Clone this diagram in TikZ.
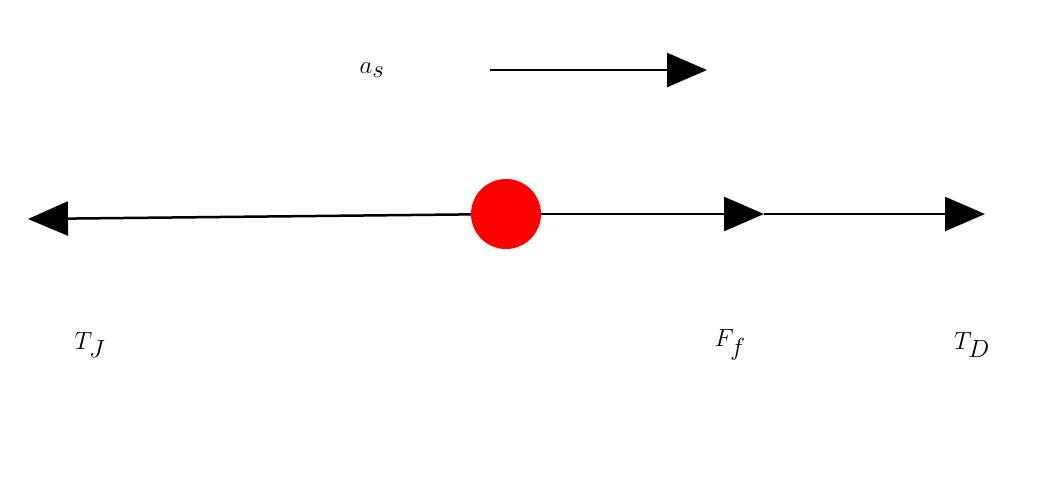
\documentclass[tikz,border=0pt]{standalone}
\usetikzlibrary{arrows.meta}
\begin{document}
\begin{tikzpicture}[x=1pt,y=-1pt,
  vec/.style={line width=2.5pt,-{Triangle[length=40pt,width=34pt]}},
  lbl/.style={font=\fontsize{64}{70}\selectfont, inner sep=0pt}]
\useasboundingbox (0,0) rectangle (1064,488);
\coordinate (c) at (506,214);
\coordinate (l) at (28,219);
\coordinate (f) at (764,214);
\coordinate (d) at (985,214);
\draw[vec] (c) -- (l);
\draw[vec] (c) -- (f);
\draw[vec] (f) -- (d);
\node[circle,fill=red,minimum size=70pt,inner sep=0pt] (dot) at (c) {};
\coordinate (a1) at (490,70);
\coordinate (a2) at (707,70);
\draw[vec] (a1) -- (a2);
\node[lbl] (as) at (372,70) {$a_s$};
\node[lbl] (tj) at (90,345) {$T_J$};
\node[lbl] (ff) at (730,345) {$F_f$};
\node[lbl] (td) at (972,345) {$T_D$};
\end{tikzpicture}
\end{document}
